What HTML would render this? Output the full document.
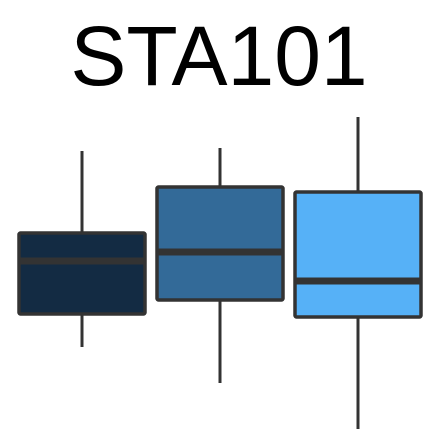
<!DOCTYPE html>
<html><head><meta charset="utf-8"><style>
html,body{margin:0;padding:0;background:#fff;}
svg{display:block;}
</style></head><body>
<svg id="chart" width="441" height="446" viewBox="0 0 441 446">
<text x="219" y="85" text-anchor="middle" font-family="Liberation Sans, sans-serif" font-size="84" fill="#000">STA101</text>
<g id="boxes"></g>
</svg>
<script>
const categories = ["A", "B", "C"];
const whiskerLow = [99, 63, 17];
const q1 = [132, 146, 129];
const medians = [185, 194, 165];
const q3 = [213, 259, 254];
const whiskerHigh = [295, 298, 329];
const fills = ["#132B43", "#336A98", "#56B1F7"];

const NS = "http://www.w3.org/2000/svg";
function yPx(v){ return 446 - v; }
function xCenter(i){ return 82 + i * 138; }
const halfW = 63;
const g = document.getElementById("boxes");
function mk(tag, attrs){ const e = document.createElementNS(NS, tag); for (const k in attrs) e.setAttribute(k, attrs[k]); return e; }
categories.forEach((c, i) => {
  const cx = xCenter(i);
  const wl = mk("line", {x1:cx, x2:cx, y1:yPx(whiskerHigh[i]), y2:yPx(whiskerLow[i]), stroke:"#333", "stroke-width":3});
  
  
  g.appendChild(wl);
  const r = mk("rect", {x:cx-halfW, y:yPx(q3[i]), width:2*halfW, height:yPx(q1[i])-yPx(q3[i]), fill:fills[i], stroke:"#333", "stroke-width":3.5, rx:1.5});
  
  
  g.appendChild(r);
  const m = mk("line", {x1:cx-halfW, x2:cx+halfW, y1:yPx(medians[i]), y2:yPx(medians[i]), stroke:"#333", "stroke-width":7});
  
  
  g.appendChild(m);
});
</script>
</body></html>
